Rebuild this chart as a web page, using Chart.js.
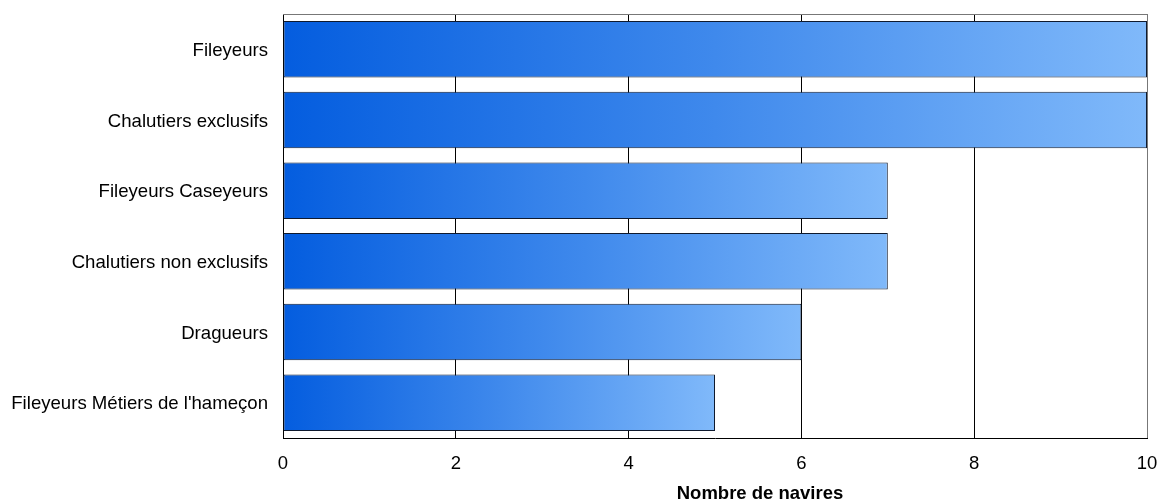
<!DOCTYPE html>
<html>
<head>
<meta charset="utf-8">
<script src="https://cdn.jsdelivr.net/npm/chart.js@4.4.0/dist/chart.umd.min.js"></script>
<style>
html,body{margin:0;padding:0;background:#fff;}
#wrap{width:1160px;height:502px;}
</style>
</head>
<body>
<div id="wrap"><canvas id="c" width="1160" height="502"></canvas></div>
<script>
const categories = ["Fileyeurs","Chalutiers exclusifs","Fileyeurs Caseyeurs","Chalutiers non exclusifs","Dragueurs","Fileyeurs Métiers de l'hameçon"];
const navires = [10, 10, 7, 7, 6, 5];
const xTicks = [0, 2, 4, 6, 8, 10];
const axisTitle = "Nombre de navires";

const FONT = "'Liberation Sans', Arial, sans-serif";

function barGradient(ctx) {
  const chart = ctx.chart;
  const xs = chart.scales.x;
  if (!xs || !chart.chartArea || ctx.dataIndex === undefined) return '#3a86ea';
  const v = ctx.raw;
  const x0 = xs.getPixelForValue(0);
  const x1 = xs.getPixelForValue(v);
  const g = chart.ctx.createLinearGradient(x0, 0, x1, 0);
  g.addColorStop(0, '#045ddf');
  g.addColorStop(0.5, '#3f89ec');
  g.addColorStop(1, '#80b9fa');
  return g;
}

const framePlugin = {
  id: 'frameTop',
  afterDraw(chart) {
    const a = chart.chartArea, c = chart.ctx;
    c.save();
    c.strokeStyle = '#777';
    c.lineWidth = 1;
    c.beginPath();
    c.moveTo(a.left, a.top + 0.5);
    c.lineTo(a.right, a.top + 0.5);
    c.stroke();
    // axis title (placed right of centre as in the source)
    c.fillStyle = '#000';
    c.font = "bold 18.5px " + FONT;
    c.textAlign = 'center';
    c.textBaseline = 'middle';
    c.fillText(axisTitle, (a.left + a.right) / 2 + 45, a.bottom + 56);
    c.restore();
  }
};

new Chart(document.getElementById('c'), {
  type: 'bar',
  data: {
    labels: categories,
    datasets: [{
      label: axisTitle,
      data: navires,
      backgroundColor: barGradient,
      borderColor: '#0f1a2e',
      borderWidth: 1,
      borderSkipped: false,
      categoryPercentage: 1,
      barPercentage: 0.8
    }]
  },
  options: {
    indexAxis: 'y',
    responsive: false,
    animation: false,
    devicePixelRatio: 1,
    layout: { padding: { top: 14, right: 13, left: 0, bottom: 0 } },
    plugins: { legend: { display: false }, tooltip: { enabled: false } },
    scales: {
      x: {
        min: 0, max: 10,
        afterBuildTicks(scale) { scale.ticks = xTicks.map(v => ({ value: v })); },
        afterFit(scale) { scale.height = 64; scale.paddingLeft = 0; scale.paddingRight = 0; },
        grid: {
          color: (c) => (c.tick && c.tick.value === 10) ? '#777' : '#000',
          drawTicks: false,
          lineWidth: 1
        },
        border: { display: true, color: '#000', width: 1 },
        ticks: { color: '#000', padding: 15, font: { family: FONT, size: 18.5 } },
        title: { display: false, text: axisTitle }
      },
      y: {
        afterFit(scale) { scale.width = 283; scale.paddingTop = 0; scale.paddingBottom = 0; },
        grid: { display: false, drawTicks: false },
        border: { display: true, color: '#000', width: 1 },
        ticks: { color: '#000', padding: 15, labelOffset: 1.5, font: { family: FONT, size: 18.6 } }
      }
    }
  },
  plugins: [framePlugin]
});
</script>
</body>
</html>
